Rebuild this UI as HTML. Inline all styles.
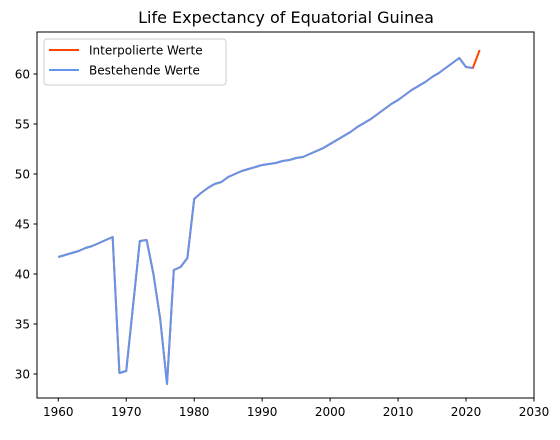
<!DOCTYPE html>
<html><head><meta charset="utf-8"><style>
body{margin:0;background:#fff;font-family:"Liberation Sans","DejaVu Sans",sans-serif}
</style></head><body>
<svg width="560" height="435" xmlns="http://www.w3.org/2000/svg">
<rect width="560" height="435" fill="#fff"/>
<text x="286" y="23" text-anchor="middle" font-size="16" font-family="DejaVu Sans,sans-serif">Life Expectancy of Equatorial Guinea</text>
<g id="plot"></g>
<rect x="37" y="32" width="497" height="366" fill="none" stroke="#000" stroke-width="1"/>
<g id="ticks" font-size="12" font-family="DejaVu Sans,sans-serif"></g>
<g>
<rect x="44" y="39" width="182" height="46" rx="3" fill="#fff" stroke="#ccc"/>
<line x1="49" y1="50" x2="79" y2="50" stroke="#ff4500" stroke-width="2"/>
<text x="89" y="54.5" font-size="12" font-family="DejaVu Sans,sans-serif">Interpolierte Werte</text>
<line x1="49" y1="70" x2="79" y2="70" stroke="#6495ed" stroke-width="2"/>
<text x="89" y="74.5" font-size="12" font-family="DejaVu Sans,sans-serif">Bestehende Werte</text>
</g>
</svg>
<script>
const years=[];for(let y=1960;y<=2022;y++)years.push(y);
const lifeExp=[41.7,41.9,42.1,42.3,42.6,42.8,43.1,43.4,43.7,30.1,30.3,36.8,43.3,43.4,40.0,35.5,29.0,40.4,40.7,41.6,47.5,48.1,48.6,49.0,49.2,49.7,50.0,50.3,50.5,50.7,50.9,51.0,51.1,51.3,51.4,51.6,51.7,52.0,52.3,52.6,53.0,53.4,53.8,54.2,54.7,55.1,55.5,56.0,56.5,57.0,57.4,57.9,58.4,58.8,59.2,59.7,60.1,60.6,61.1,61.6,60.7,60.6,62.4];
const existingCount=62; // 1960..2021
const xTicks=[1960,1970,1980,1990,2000,2010,2020,2030];
const yTicks=[30,35,40,45,50,55,60];
const sx=v=>37+(v-1956.87)*(497/73.13);
const sy=v=>398-(v-27.6)*10;
const NS="http://www.w3.org/2000/svg";
const plot=document.getElementById('plot');
function line(n,color,name){
 const p=document.createElementNS(NS,'polyline');
 p.setAttribute('points',years.slice(0,n).map((y,i)=>sx(y)+','+sy(lifeExp[i])).join(' '));
 p.setAttribute('fill','none');p.setAttribute('stroke',color);p.setAttribute('stroke-width','2');p.setAttribute('stroke-linejoin','round');
 
 
 plot.appendChild(p);
}
line(years.length,'#ff4500','interpolated-line');
line(existingCount,'#6495ed','existing-line');
const tg=document.getElementById('ticks');
xTicks.forEach(t=>{
 const x=sx(t);
 const l=document.createElementNS(NS,'line');
 l.setAttribute('x1',x);l.setAttribute('x2',x);l.setAttribute('y1',398);l.setAttribute('y2',401.5);l.setAttribute('stroke','#000');
 
 
 tg.appendChild(l);
 const tx=document.createElementNS(NS,'text');
 tx.setAttribute('x',x);tx.setAttribute('y',416);tx.setAttribute('text-anchor','middle');tx.textContent=t;
 
 
 tg.appendChild(tx);
});
yTicks.forEach(t=>{
 const y=sy(t);
 const l=document.createElementNS(NS,'line');
 l.setAttribute('x1',33.5);l.setAttribute('x2',37);l.setAttribute('y1',y);l.setAttribute('y2',y);l.setAttribute('stroke','#000');
 
 
 tg.appendChild(l);
 const tx=document.createElementNS(NS,'text');
 tx.setAttribute('x',30);tx.setAttribute('y',y+4.5);tx.setAttribute('text-anchor','end');tx.textContent=t;
 
 
 tg.appendChild(tx);
});
</script>
</body></html>
